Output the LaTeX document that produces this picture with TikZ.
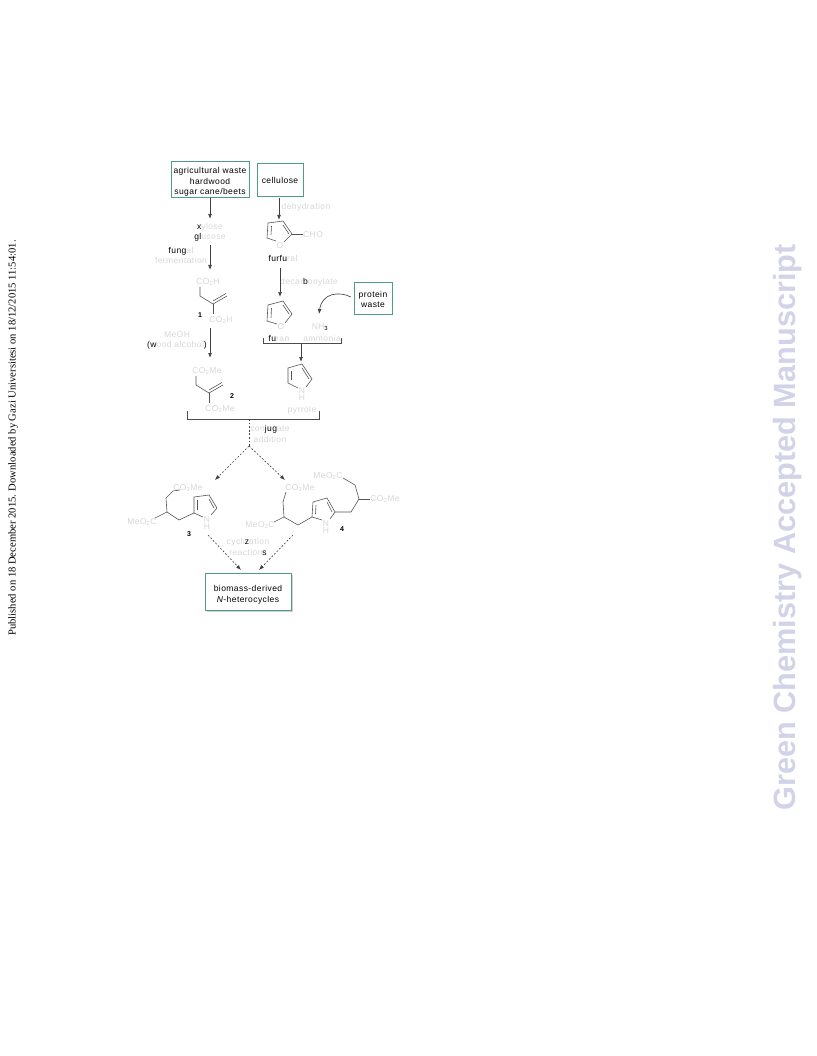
\documentclass[tikz,border=0pt]{standalone}
\usepackage{fontspec}
\setmainfont{Liberation Serif}
\setsansfont{Liberation Sans}
\newfontfamily\chemfont[LetterSpace=5]{Liberation Sans}
\usetikzlibrary{arrows.meta}
\definecolor{lite}{HTML}{D6D6D6}
\definecolor{boxgreen}{HTML}{4F9F7F}
\definecolor{bondcol}{HTML}{555555}
\definecolor{mark}{HTML}{D2D2E8}
\newcommand{\lt}[1]{\textcolor{lite}{#1}}
\newcommand{\sbs}[1]{\textsubscript{#1}}
\newcommand{\lowerby}[1]{\rule{0pt}{\dimexpr#1+7pt\relax}}
\tikzset{
  x=1pt,y=-1pt,
  lab/.style={font=\chemfont\fontsize{8.5}{10.3}\selectfont,text=black,inner sep=1pt,align=center},
  pale/.style={lab,text=lite},
  num/.style={font=\sffamily\bfseries\fontsize{7}{8}\selectfont,inner sep=0pt},
  greenbox/.style={draw=boxgreen,line width=0.8pt,fill=white,lab},
  bond/.style={draw=bondcol,line width=0.6pt},
  arr/.style={draw=black!75,line width=0.65pt,-{Latex[length=5pt,width=3.8pt]}},
  darr/.style={arr,dash pattern=on 1.8pt off 1.8pt},
  brk/.style={draw=black!70,line width=0.6pt},
}
\begin{document}
\begin{tikzpicture}
\useasboundingbox (0,0) rectangle (816,1056);
% margin texts
\node[rotate=90,inner sep=0pt,font=\rmfamily\fontsize{10.6}{12}\selectfont] (pub) at (13,438) {Published on 18 December 2015. Downloaded by Gazi Universitesi on 18/12/2015 11:54:01.};
\node[rotate=90,inner sep=0pt,text=mark,font=\sffamily\bfseries\fontsize{30.7}{36}\selectfont] (gcam) at (788,527.5) {Green Chemistry Accepted Manuscript};
% boxes
\fill[black!18] (207,575) rectangle (293,612);
\node[greenbox,minimum width=78pt,minimum height=33pt] (box1) at (210,179.5) {\lowerby{4pt}agricultural waste\\hardwood\\sugar cane/beets};
\node[greenbox,minimum width=46pt,minimum height=33pt] (box2) at (280,179.5) {\lowerby{2pt}cellulose};
\node[greenbox,minimum width=38pt,minimum height=32pt] (box3) at (373,298) {\lowerby{2pt}protein\\waste};
\node[greenbox,minimum width=86pt,minimum height=37pt] (box4) at (248,591.5) {\lowerby{6pt}biomass-derived\\\textit{N}-heterocycles};
% labels
\node[lab] (xyl) at (210,232) {x\lt{ylose}\\gl\lt{ucose}};
\node[pale] (fung) at (181,255.5) {\textcolor{black}{fung}al\\fermentation};
\node[pale] (co2h1) at (208,282) {CO\sbs{2}H};
\node[pale] (co2h2) at (221,320) {CO\sbs{2}H};
\node[num] (n1) at (200,315) {1};
\node[pale] (meoh) at (177,340.5) {MeOH\\\textcolor{black}{(w}ood alcohol\textcolor{black}{)}};
\node[pale] (es1) at (207,371) {CO\sbs{2}Me};
\node[pale] (es2) at (220,409) {CO\sbs{2}Me};
\node[num] (n2) at (232,396) {2};
\node[pale] (dehyd) at (306,207) {dehydration};
\node[pale] (cho) at (313,235) {CHO};
\node[pale] (ofur) at (280,246) {O};
\node[lab] (furf) at (283,258) {furfu\lt{ral}};
\node[pale] (decarb) at (309,282) {decar\textcolor{black}{b}onylate};
\node[pale] (ofuran) at (281,327) {O};
\node[pale] (nh3) at (320,327) {NH\sbs{\textcolor{black}{3}}};
\node[lab] (furan) at (279,338) {fu\lt{ran}};
\node[pale] (ammo) at (322,338) {ammonia};
\node[pale] (npy) at (302,394) {N\\[-2.5pt]H};
\node[pale] (pyr) at (302,410) {pyrrole};
\node[pale] (conj) at (270,434) {con\textcolor{black}{jug}ate\\addition};
\node[pale] (co3) at (188,488) {CO\sbs{2}Me};
\node[pale] (meo3) at (142,522) {MeO\sbs{2}C};
\node[pale] (n3h) at (207,523) {N\\[-2.5pt]H};
\node[num] (n3) at (189,534) {3};
\node[pale] (co4a) at (300,488) {CO\sbs{2}Me};
\node[pale] (meo4a) at (260,525) {MeO\sbs{2}C};
\node[pale] (n4h) at (326,527) {N\\[-2.5pt]H};
\node[num] (n4) at (342,529) {4};
\node[pale] (meo4b) at (328,476) {MeO\sbs{2}C};
\node[pale] (co4b) at (385,499) {CO\sbs{2}Me};
\node[pale] (cyc) at (248,547) {cycli\textcolor{black}{z}ation\\reaction\textcolor{black}{s}};
% junction coordinates
\coordinate (brA) at (301,343);
\coordinate (brB) at (249,419);
\coordinate (split) at (249,446);
\coordinate (top3) at (215,480);
\coordinate (top4) at (285,480);
\coordinate (bot3) at (208,535);
\coordinate (bot4) at (293,535);
\coordinate (in3) at (241,570);
\coordinate (in4) at (259,570);
\coordinate (pyrtop) at (301,362);
\coordinate (mono1) at (210,270);
\coordinate (mono2) at (210,358);
\coordinate (furtop) at (280,297);
\coordinate (fftop) at (279,220);
\coordinate (mid1) at (210,328);
\coordinate (wasteout) at (351,297);
\coordinate (wastein) at (319,314);
% arrows
\draw[arr] (210,198) -- (210,219);
\draw[arr] (279,198) -- (fftop);
\draw[arr] (210,245) -- (mono1);
\draw[arr] (280,268) -- (furtop);
\draw[arr] (mid1) -- (mono2);
\draw[arr] (wasteout) .. controls (339,291) and (322,293) .. (wastein);
\draw[arr] (brA) -- (pyrtop);
\draw[brk] (263,338) -- (263,343) -- (341,343) -- (341,338);
\draw[brk] (187.5,411) -- (187.5,419) -- (319,419) -- (319,411);
\draw[darr,-] (brB) -- (split);
\draw[darr] (split) -- (top3);
\draw[darr] (split) -- (top4);
\draw[darr] (bot3) -- (in3);
\draw[darr] (bot4) -- (in4);
% compound 1
\draw[bond] (200,287) -- (200,296) -- (213,304) -- (227,296);
\draw[bond] (213,301) -- (226,293.5);
\draw[bond] (213,304) -- (213,314);
% compound 2
\draw[bond] (196,376) -- (196,385) -- (209,393) -- (223,385);
\draw[bond] (209,390) -- (222,382.5);
\draw[bond] (209,393) -- (209,403);
% furfural
\draw[bond] (276,241) -- (267,238) -- (268,223) -- (283,221) -- (292,234) -- (284,242);
\draw[bond] (271,235) -- (271.5,226);
\draw[bond] (283,225) -- (289,234);
\draw[bond] (292,234) -- (303,234);
% furan
\draw[bond] (277,324) -- (267,321) -- (268,305) -- (283,301) -- (292,314) -- (285,323);
\draw[bond] (271,318) -- (271.5,308);
\draw[bond] (283,305) -- (289,314);
% pyrrole
\draw[bond] (298,388) -- (288,383) -- (288,368) -- (302,364) -- (312,379) -- (306,387);
\draw[bond] (291,380) -- (291,371);
\draw[bond] (302,368) -- (309,379);
% compound 3
\draw[bond] (180,490) -- (173,491) -- (166,498) -- (167,512) -- (179,520) -- (194,513);
\draw[bond] (155,518) -- (167,512);
\draw[bond] (194,513) -- (194,497) -- (209,495) -- (217,508) -- (211,515);
\draw[bond] (203,517) -- (194,513);
\draw[bond] (197,510) -- (197,500);
\draw[bond] (209,499) -- (214,508);
% compound 4
\draw[bond] (286,492) -- (283,502) -- (284,517) -- (298,525) -- (312,517);
\draw[bond] (274,522) -- (284,517);
\draw[bond] (312,517) -- (313,502) -- (327,498) -- (335,512) -- (330,519);
\draw[bond] (322,520) -- (312,517);
\draw[bond] (315.5,514) -- (316,505);
\draw[bond] (327,502) -- (332,512);
\draw[bond] (335,512) -- (351,512) -- (359,499) -- (355,485) -- (343,478);
\draw[bond] (359,499) -- (370,499);
\end{tikzpicture}
\end{document}
